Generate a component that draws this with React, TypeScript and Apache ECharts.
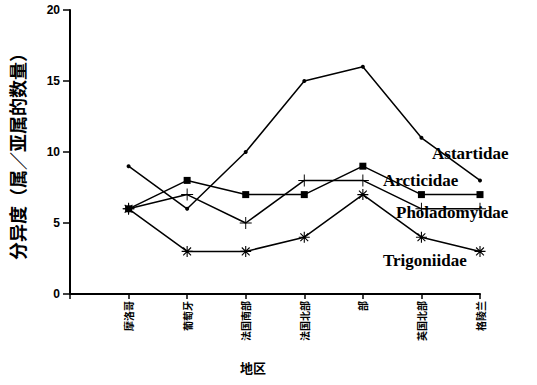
import React, { useEffect, useRef } from "react";
import * as echarts from "echarts";

const categories = ["摩洛哥", "葡萄牙", "法国南部", "法国北部", "部", "英国北部", "格陵兰"];
const astartidae = [9, 6, 10, 15, 16, 11, 8];
const arcticidae = [6, 8, 7, 7, 9, 7, 7];
const pholadomyidae = [6, 7, 5, 8, 8, 6, 6];
const trigoniidae = [6, 3, 3, 4, 7, 4, 3];
const seriesNames = ["Astartidae", "Arcticidae", "Pholadomyidae", "Trigoniidae"];
const yTicks = [0, 5, 10, 15, 20];

const PLUS = "path://M-0.8,-10 H0.8 V-0.8 H10 V0.8 H0.8 V10 H-0.8 V0.8 H-10 V-0.8 H-0.8 Z";
const STAR =
  "path://M-1,-10 H1 V10 H-1 Z M-10,-1 H10 V1 H-10 Z M-7.8,-6.4 L-6.4,-7.8 L7.8,6.4 L6.4,7.8 Z M6.4,-7.8 L7.8,-6.4 L-6.4,7.8 L-7.8,6.4 Z";

export default function App() {
  const ref = useRef<HTMLDivElement>(null);
  useEffect(() => {
    if (!ref.current) return;
    const chart = echarts.init(ref.current, undefined, { renderer: "svg" });
    const toPts = (arr: number[]) => arr.map((v, i) => [i + 1, v]);
    const lineStyle = { color: "#000", width: 1.5 };
    const lbl = (text: string, x: number, y: number) => ({
      type: "text",
      x,
      y,
      style: {
        text,
        fontSize: 17,
        fontWeight: "bold",
        fill: "#000",
        fontFamily: "Liberation Serif",
        verticalAlign: "middle",
      },
    });
    chart.setOption({
      animation: false,
      backgroundColor: "#fff",
      grid: { left: 68, right: 57, top: 10, bottom: 91 },
      xAxis: {
        type: "value",
        min: 0,
        max: 7,
        interval: 1,
        splitLine: { show: false },
        axisLine: { show: true, lineStyle: { color: "#000", width: 2 } },
        axisTick: { show: true, length: 5, lineStyle: { color: "#000", width: 1.5 } },
        axisLabel: {
          rotate: 90,
          fontSize: 10,
          fontWeight: "bold",
          color: "#000",
          margin: 7,
          fontFamily: "Noto Sans CJK SC",
          formatter: (v: number) => (v >= 1 && v <= 7 ? categories[v - 1] : ""),
        },
      },
      yAxis: {
        type: "value",
        min: 0,
        max: 20,
        interval: 5,
        name: "分异度（属／亚属的数量）",
        nameLocation: "middle",
        nameGap: 44,
        nameRotate: 90,
        nameTextStyle: { fontSize: 18, fontWeight: "bold", color: "#000", fontFamily: "Noto Sans CJK SC" },
        splitLine: { show: false },
        axisLine: { show: true, lineStyle: { color: "#000", width: 2 } },
        axisTick: { show: true, length: 7, lineStyle: { color: "#000", width: 1.5 } },
        axisLabel: {
          fontSize: 12,
          fontWeight: "bold",
          color: "#000",
          margin: 10,
          fontFamily: "Liberation Sans",
          formatter: (v: number) => (yTicks.includes(v) ? String(v) : ""),
        },
      },
      series: [
        {
          name: seriesNames[0],
          type: "line",
          data: toPts(astartidae),
          symbol: "circle",
          symbolSize: 4,
          itemStyle: { color: "#000" },
          lineStyle,
        },
        {
          name: seriesNames[1],
          type: "line",
          data: toPts(arcticidae),
          symbol: "rect",
          symbolSize: 7,
          itemStyle: { color: "#000" },
          lineStyle,
        },
        {
          name: seriesNames[2],
          type: "line",
          data: toPts(pholadomyidae),
          symbol: PLUS,
          symbolSize: 12,
          itemStyle: { color: "#000" },
          lineStyle,
        },
        {
          name: seriesNames[3],
          type: "line",
          data: toPts(trigoniidae),
          symbol: STAR,
          symbolSize: 11,
          itemStyle: { color: "#000" },
          lineStyle,
        },
      ],
      graphic: [
        {
          type: "text",
          left: 240,
          top: 361,
          style: { text: "地区", fontSize: 13, fontWeight: "bold", fill: "#000", fontFamily: "Noto Sans CJK SC" },
        },
        lbl(seriesNames[0], 432, 153),
        lbl(seriesNames[1], 383, 180),
        lbl(seriesNames[2], 396, 212),
        lbl(seriesNames[3], 383, 260),
      ],
    });
    return () => chart.dispose();
  }, []);
  return <div ref={ref} style={{ width: 537, height: 385, position: "absolute", left: 0, top: 0 }} />;
}
